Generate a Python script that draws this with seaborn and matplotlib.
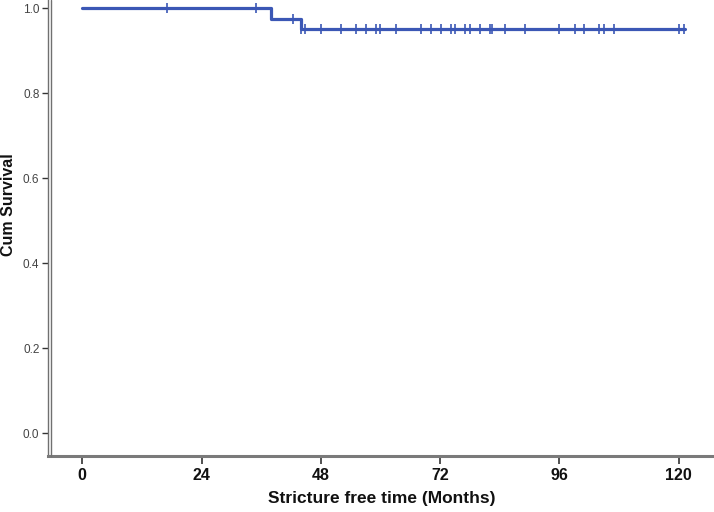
import numpy as np
import pandas as pd
import matplotlib
matplotlib.use("Agg")
import matplotlib.pyplot as plt
from matplotlib.lines import Line2D
import seaborn as sns

# ---- data ----
step_times = [0.0, 38.0, 44.0, 121.2]
step_surv = [1.0, 0.976, 0.952, 0.952]
censor_times = [17, 35, 42.3, 44.1, 44.8, 48, 52, 55.1, 57.1, 59.1, 59.9, 63.1,
                68.1, 70.1, 72.1, 74.1, 74.9, 77.1, 78.1, 80.1, 82.1, 82.4, 85.1,
                89.1, 96, 99.1, 101, 104, 105, 107, 120.1, 121.1]
x_ticks = [0, 24, 48, 72, 96, 120]
y_ticks = [0.0, 0.2, 0.4, 0.6, 0.8, 1.0]
x_label = "Stricture free time (Months)"
y_label = "Cum Survival"

sns.set_theme(style="white")
plt.rcParams["font.family"] = ["Liberation Sans", "DejaVu Sans"]

W, H = 714, 512
fig = plt.figure(figsize=(W / 100, H / 100), dpi=100)
ax_left, ax_bottom = 48.5, 456
ax = fig.add_axes([ax_left / W, (H - ax_bottom) / H, (W - ax_left) / W, ax_bottom / H])

line_color = "#3b57b5"
steps = pd.DataFrame({"t": step_times, "s": step_surv})
sns.lineplot(data=steps, x="t", y="s", drawstyle="steps-post", color=line_color,
             linewidth=2.3, ax=ax, estimator=None, sort=False)

idx = np.searchsorted(np.array(step_times), np.array(censor_times), side="right") - 1
cens = pd.DataFrame({"t": censor_times, "s": np.array(step_surv)[idx]})
sns.scatterplot(data=cens, x="t", y="s", marker="|", s=60, linewidth=1.2,
                color=line_color, ax=ax, zorder=3)

# scale: 0 at px 82.3, 4.97 px/month; 0.0 at py 433, 1.0 at py 8.5
ax.set_xlim((ax_left - 82.3) / 4.97, (W - 82.3) / 4.97)
ax.set_ylim(-(ax_bottom - 433) / 424.5, 1 + 8.5 / 424.5)

ax.set_xticks(x_ticks)
ax.set_xticklabels([str(v) for v in x_ticks])
ax.set_yticks(y_ticks)
ax.set_yticklabels([f"{v:.1f}" for v in y_ticks])

for sp in ["top", "right"]:
    ax.spines[sp].set_visible(False)
ax.spines["bottom"].set_color("#7a7a7a")
ax.spines["bottom"].set_linewidth(2.2)
ax.spines["left"].set_color("#707070")
ax.spines["left"].set_linewidth(1.0)

ax.tick_params(axis="y", direction="out", length=4.5, width=1, color="#333333",
               pad=2, labelsize=8.5, labelcolor="#444444", left=True)
ax.tick_params(axis="x", direction="out", length=6, width=1.2, color="#333333",
               pad=2.5, labelsize=11.5, labelcolor="#111111", bottom=True)
for lab in ax.get_xticklabels():
    lab.set_fontweight("bold")

ax.set_xlabel(x_label, fontsize=12.5, fontweight="bold", color="#111111",
              labelpad=6)
ax.set_ylabel("")

# second line of the double left axis
fig.add_artist(Line2D([51.5 / W, 51.5 / W], [(H - ax_bottom) / H, 1.0],
                      color="#707070", linewidth=1.0))

# y label at the far left, kept fully inside the figure
fig.text(1 / W, 1 - 205 / H, y_label, rotation=90, ha="left", va="center",
         fontsize=11.5, fontweight="bold", color="#111111")

fig.savefig("out.png", dpi=100)
